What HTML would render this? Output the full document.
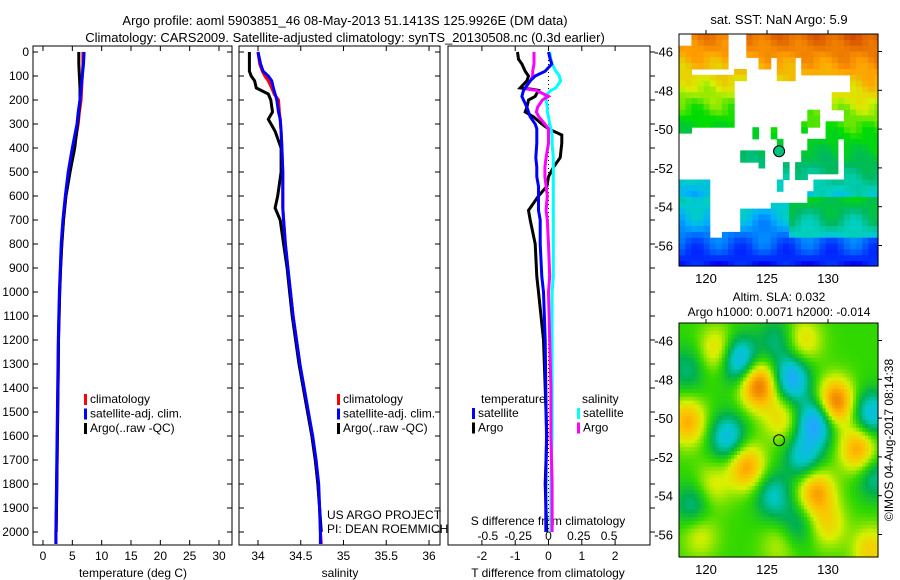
<!DOCTYPE html>
<html><head><meta charset="utf-8"><style>
body{margin:0;background:#fff}
svg{display:block;font-family:"Liberation Sans",sans-serif;font-size:12px}
</style></head><body>
<svg id="s" width="900" height="580" viewBox="0 0 900 580">
<text x="345" y="25" text-anchor="middle" font-size="13">Argo profile: aoml 5903851_46 08-May-2013 51.1413S 125.9926E (DM data)</text>
<text x="345" y="42" text-anchor="middle" font-size="13">Climatology: CARS2009. Satellite-adjusted climatology: synTS_20130508.nc (0.3d earlier)</text>
<g id="g1"></g>
<g id="g2"></g>
<g id="g3"></g>
<g id="m1"></g>
<g id="m2"></g>
<text transform="translate(893,440) rotate(-90)" text-anchor="middle">©IMOS 04-Aug-2017 08:14:38</text>
</svg>
<script>
const tDepths=[0,50,100,150,200,250,300,400,500,600,700,800,900,1000,1100,1200,1300,1400,1500,1600,1700,1800,1900,2000,2050];
const tClim=[6.8,6.8,6.7,6.6,6.5,6.2,6.0,5.3,4.6,3.9,3.5,3.2,3.0,2.85,2.75,2.65,2.6,2.55,2.5,2.45,2.4,2.35,2.3,2.2,2.2];
const tSat=[7.0,6.9,6.7,6.5,6.3,6.0,5.8,5.0,4.3,3.8,3.4,3.1,2.95,2.8,2.7,2.6,2.55,2.5,2.45,2.4,2.35,2.3,2.25,2.2,2.2];
const tArgo=[6.1,6.1,6.2,6.3,6.3,6.1,5.9,5.4,4.6,3.9,3.5,3.2,3.0,2.85,2.75,2.65,2.6,2.55,2.5,2.45,2.4,2.35,2.3,2.25];
const sDepths=[0,50,80,100,120,150,175,200,250,280,330,400,500,600,650,700,800,900,1000,1100,1200,1300,1400,1500,1600,1700,1800,1900,2000,2050];
const sClim=[34.0,34.02,34.05,34.08,34.12,34.16,34.19,34.24,34.25,34.26,34.27,34.28,34.29,34.29,34.29,34.3,34.32,34.35,34.38,34.41,34.45,34.49,34.53,34.58,34.63,34.67,34.70,34.72,34.73,34.74];
const sSat=[34.0,34.03,34.06,34.12,34.16,34.18,34.2,34.22,34.24,34.26,34.27,34.28,34.29,34.29,34.29,34.3,34.32,34.35,34.38,34.41,34.45,34.49,34.54,34.59,34.64,34.68,34.71,34.72,34.73,34.73];
const sArgo=[33.9,33.9,33.9,33.92,33.96,33.98,34.12,34.15,34.17,34.12,34.2,34.27,34.27,34.23,34.2,34.26,34.3,34.34,34.37,34.4,34.44,34.48,34.53,34.58,34.63,34.67,34.70,34.72,34.74];
const dDepths=[0,30,50,80,100,120,150,155,160,185,200,230,250,270,300,320,346,380,440,480,520,560,600,660,700,800,935,1000,1200,1400,1600,1800,2000];
const dTArgo=[-0.93,-0.9,-0.8,-0.7,-0.6,-0.65,-0.85,-0.5,-0.3,-0.4,-0.6,-0.65,-0.7,-0.45,-0.2,0.0,0.4,0.4,0.35,0.15,0.0,-0.05,-0.3,-0.6,-0.55,-0.4,-0.35,-0.3,-0.15,-0.1,-0.05,-0.1,-0.05];
const dTSat=[0,0.05,0.1,-0.1,-0.4,-0.55,-0.7,-0.72,-0.75,-0.8,-0.75,-0.65,-0.6,-0.55,-0.4,-0.35,-0.35,-0.35,-0.38,-0.35,-0.35,-0.3,-0.3,-0.3,-0.25,-0.25,-0.2,-0.15,-0.1,-0.08,-0.06,-0.08,-0.08];
const dSSat=[0.01,0.02,0.03,0.06,0.09,0.1,0.06,0.04,0.02,-0.03,-0.02,-0.01,-0.01,0.0,0.01,0.02,0.03,0.03,0.04,0.04,0.04,0.04,0.04,0.04,0.04,0.04,0.04,0.03,0.03,0.03,0.03,0.02,0.02];
const dSArgo=[-0.12,-0.12,-0.12,-0.13,-0.13,-0.15,-0.19,-0.17,-0.1,0.0,-0.05,-0.09,-0.1,-0.08,-0.03,0.0,0.0,0.0,-0.02,-0.03,-0.03,-0.02,-0.01,-0.02,-0.01,0.0,0.01,0.0,0.01,0.02,0.02,0.03,0.03];
const depthTicks=[0,100,200,300,400,500,600,700,800,900,1000,1100,1200,1300,1400,1500,1600,1700,1800,1900,2000];
const tTicks=[0,5,10,15,20,25,30];
const sTicks=[34,34.5,35,35.5,36];
const dTTicks=[-2,-1,0,1,2];
const dSTicks=[-0.5,-0.25,0,0.25,0.5];
const slaBlobs=[[124.3,-48.3,1.2],[130.6,-49.2,1.2],[132.5,-51.6,0.9],[123.3,-52.5,0.9],[129,-53.8,0.9],[118.5,-50.2,0.8],[121,-46.5,0.6],[126.2,-50,0.5],[133.5,-56.8,0.6],[119.5,-56,0.4],[128,-46,0.5],[120.5,-53.5,0.4],[130,-55.5,0.5],[126,-56.5,0.3],
 [122.7,-47,-1],[127,-48,-1],[129,-50.2,-1.1],[121.8,-51,-0.8],[133.5,-49.8,-0.8],[128,-52,-0.7],[125.5,-54,-0.6],[119,-54.5,-0.5],[125.8,-46,-0.4],[133.8,-53,-0.5],[118.5,-47.5,-0.4],[127.5,-55.5,-0.4]];

const NS='http://www.w3.org/2000/svg';
function el(p,tag,a,txt){const e=document.createElementNS(NS,tag);for(const k in a)e.setAttribute(k,a[k]);if(txt!==undefined)e.textContent=txt;p.appendChild(e);return e;}
const Y0=52,PPM=0.24,YB=545;
const yD=d=>Y0+d*PPM;
function lin(d0,d1,r0,r1){return v=>r0+(v-d0)*(r1-r0)/(d1-d0);}
function line(g,xs,ds,fx,col,name,w,dash){
  const pts=xs.map((v,i)=>fx(v).toFixed(1)+','+yD(ds[i]).toFixed(1)).join(' ');
  const e=el(g,'polyline',{points:pts,fill:'none',stroke:col,'stroke-width':w||3,'stroke-linejoin':'miter'});
  if(dash)e.setAttribute('stroke-dasharray',dash);
  
  
}
function frame(g,x0,x1,name){
  const r=el(g,'rect',{x:x0,y:Y0-6,width:x1-x0,height:YB-Y0+6,fill:'none',stroke:'#000','stroke-width':1});
  
  
}
function legend(g,x,y,items){
  items.forEach((it,i)=>{
    const r=el(g,'rect',{x:x,y:y+i*14.5-9,width:3,height:11,fill:it[1]});
    
    
    const t=el(g,'text',{x:x+6,y:y+i*14.5},it[0]);
    
    
  });
}
const g1=document.getElementById('g1');
const fxT=lin(0,30,43,219);
frame(g1,33,232,'temperature-axes');
depthTicks.forEach(d=>{
  el(g1,'line',{x1:33,x2:38,y1:yD(d),y2:yD(d),stroke:'#000'});
  el(g1,'line',{x1:227,x2:232,y1:yD(d),y2:yD(d),stroke:'#000'});
  const t=el(g1,'text',{x:29,y:yD(d)+4,'text-anchor':'end'},String(d));
  
  
});
tTicks.forEach(v=>{
  el(g1,'line',{x1:fxT(v),x2:fxT(v),y1:46,y2:51,stroke:'#000'});
  el(g1,'line',{x1:fxT(v),x2:fxT(v),y1:YB-5,y2:YB,stroke:'#000'});
  const t=el(g1,'text',{x:fxT(v),y:560,'text-anchor':'middle'},String(v));
  
  
});
el(g1,'text',{x:133,y:577,'text-anchor':'middle',},'temperature (deg C)');
line(g1,tClim,tDepths,fxT,'#f00','temperature-climatology');
line(g1,tArgo,tDepths,fxT,'#000','temperature-argo');
line(g1,tSat,tDepths,fxT,'#00f','temperature-satellite');
legend(g1,84,403,[['climatology','#f00'],['satellite-adj. clim.','#00f'],['Argo(..raw -QC)','#000']]);
const g2=document.getElementById('g2');
const fxS=lin(34,36,258,429);
frame(g2,239,440,'salinity-axes');
depthTicks.forEach(d=>{
  el(g2,'line',{x1:239,x2:244,y1:yD(d),y2:yD(d),stroke:'#000'});
  el(g2,'line',{x1:435,x2:440,y1:yD(d),y2:yD(d),stroke:'#000'});
});
sTicks.forEach(v=>{
  el(g2,'line',{x1:fxS(v),x2:fxS(v),y1:46,y2:51,stroke:'#000'});
  el(g2,'line',{x1:fxS(v),x2:fxS(v),y1:YB-5,y2:YB,stroke:'#000'});
  const t=el(g2,'text',{x:fxS(v),y:560,'text-anchor':'middle'},String(v));
  
  
});
el(g2,'text',{x:340,y:577,'text-anchor':'middle',},'salinity');
line(g2,sClim,sDepths,fxS,'#f00','salinity-climatology');
line(g2,sArgo,sDepths,fxS,'#000','salinity-argo');
line(g2,sSat,sDepths,fxS,'#00f','salinity-satellite');
legend(g2,337,403,[['climatology','#f00'],['satellite-adj. clim.','#00f'],['Argo(..raw -QC)','#000']]);
el(g2,'text',{x:327,y:519,},'US ARGO PROJECT');
el(g2,'text',{x:327,y:533,},'PI: DEAN ROEMMICH');
const g3=document.getElementById('g3');
const fxDT=lin(0,1,548.5,581.8);
const fxDS=lin(0,0.25,548.5,578.8);
frame(g3,448,650,'difference-axes');
depthTicks.forEach(d=>{
  el(g3,'line',{x1:650,x2:655,y1:yD(d),y2:yD(d),stroke:'#000'});
});
el(g3,'line',{x1:548.5,x2:548.5,y1:Y0,y2:yD(2000),stroke:'#000','stroke-dasharray':'1,3',});
dTTicks.forEach(v=>{
  el(g3,'line',{x1:fxDT(v),x2:fxDT(v),y1:46,y2:51,stroke:'#000'});
  el(g3,'line',{x1:fxDT(v),x2:fxDT(v),y1:YB-5,y2:YB,stroke:'#000'});
  const t=el(g3,'text',{x:fxDT(v),y:560,'text-anchor':'middle'},String(v));
  
  
});
dSTicks.forEach(v=>{
  const t=el(g3,'text',{x:fxDS(v),y:540,'text-anchor':'middle'},String(v));
  
  
});
el(g3,'text',{x:548,y:525,'text-anchor':'middle',},'S difference from climatology');
el(g3,'text',{x:548,y:577,'text-anchor':'middle',},'T difference from climatology');
line(g3,dTArgo,dDepths,fxDT,'#000','t-diff-argo');
line(g3,dSSat,dDepths,fxDS,'#0ff','s-diff-satellite');
line(g3,dSArgo,dDepths,fxDS,'#f0f','s-diff-argo');
line(g3,dTSat,dDepths,fxDT,'#00f','t-diff-satellite');
el(g3,'text',{x:481,y:403,},'temperature');
el(g3,'text',{x:582,y:403,},'salinity');
legend(g3,472,417,[['satellite','#00f'],['Argo','#000']]);
legend(g3,577,417,[['satellite','#0ff'],['Argo','#f0f']]);

function hex(h){return [parseInt(h.substr(1,2),16),parseInt(h.substr(3,2),16),parseInt(h.substr(5,2),16)];}
function pal(stops,v){
  if(v<=stops[0][0])return 'rgb('+hex(stops[0][1])+')';
  for(let i=1;i<stops.length;i++){if(v<=stops[i][0]){const a=hex(stops[i-1][1]),b=hex(stops[i][1]),f=(v-stops[i-1][0])/(stops[i][0]-stops[i-1][0]);return 'rgb('+a.map((c,k)=>Math.round(c+(b[k]-c)*f)).join(',')+')';}}
  return 'rgb('+hex(stops[stops.length-1][1])+')';
}
const sstPal=[[0,'#000080'],[0.15,'#0000ff'],[0.28,'#0070ff'],[0.35,'#00b0ff'],[0.42,'#00d0c0'],[0.5,'#00b860'],[0.6,'#00dd00'],[0.7,'#d8f000'],[0.8,'#ffa000'],[0.9,'#e06000'],[1,'#b02000']];
const slaPal=[[-1,'#20a8ff'],[-0.6,'#00c8c8'],[-0.3,'#00b050'],[0,'#30d800'],[0.35,'#d8f000'],[0.7,'#ffc000'],[1.1,'#f08000']];
const LX=lin(120,130,706,828);
function drawMap(g,top,bot,cellFn,dlon,dlat,name){
  const LY=lin(-46,-56,top+17.5,top+17.5+194);
  const x0=679,x1=878;
  for(let lon=117.8;lon<134.2;lon+=dlon){for(let lat=-45.1;lat>-57.2;lat-=dlat){
    const c=cellFn(lon+dlon/2,lat-dlat/2);if(!c)continue;
    const xa=Math.max(x0,LX(lon)),xb=Math.min(x1,LX(lon+dlon)),ya=Math.max(top,LY(lat)),yb=Math.min(bot,LY(lat-dlat));
    if(xb>xa&&yb>ya)el(g,'rect',{x:xa.toFixed(1),y:ya.toFixed(1),width:(xb-xa+0.6).toFixed(1),height:(yb-ya+0.6).toFixed(1),fill:c});
  }}
  const fr=el(g,'rect',{x:x0,y:top,width:x1-x0,height:bot-top,fill:'none',stroke:'#000'});
  
  
  [120,125,130].forEach(v=>{el(g,'line',{x1:LX(v),x2:LX(v),y1:top,y2:top-4,stroke:'#000'});
    const t=el(g,'text',{x:LX(v),y:bot+17,'text-anchor':'middle','font-size':13},String(v));
    });
  [-46,-48,-50,-52,-54,-56].forEach(v=>{el(g,'line',{x1:x1,x2:x1+4,y1:LY(v),y2:LY(v),stroke:'#000'});
    const t=el(g,'text',{x:673,y:LY(v)+5,'text-anchor':'end','font-size':13},String(v));
    });
  return LY;
}
const sstRects=[[118.6,121.8,-45.1,-46.8],[118,119,-45.8,-50.1],[119,122.2,-47.3,-50],[122.5,123.3,-46.9,-47.6],
[123.5,134.3,-45.1,-46.2],[124.5,125.5,-46.2,-47],[126,127.3,-46.2,-47.6],[128,134.3,-46.2,-47.3],[131.6,134.3,-47.3,-48.5],
[130.2,131.8,-48,-49],[128.5,129.5,-49,-50],[127.8,128.3,-49.7,-50.2],[131.5,134.3,-48.5,-53.2],[130,131.5,-49.5,-50.5],[128.5,131,-50.5,-52.3],
[129,134.3,-52.5,-54],[123.8,124.3,-49.8,-50.4],[125.3,125.8,-50,-50.6],[126,126.5,-50.4,-51],[123,124.2,-51,-51.6],[124.2,125,-51.1,-52.1],
[126.3,126.8,-51.7,-52.7],[125.8,126.5,-52.7,-53.3],[127.5,128.5,-51.7,-52.5],[127.9,128.4,-51,-51.6],[128.3,128.8,-53.2,-53.8],
[118,120.2,-52.5,-57.2],[120,121.3,-55.5,-57.2],[121.3,134.3,-55.2,-57.2],[123,134.3,-54.2,-55.2],[125.5,134.3,-53.8,-54.2]];
function sstCell(lon,lat){
  if(!sstRects.some(r=>lon>=r[0]&&lon<=r[1]&&lat<=r[2]&&lat>=r[3]))return null;
  let v=0.88+(lat+45.2)*0.06+(lon-126)*0.004+0.03*Math.sin(lon*2.1+lat*1.3)*Math.cos(lat*2.7);
  if(lat<-53.5)v=0.44+(lat+53.5)*0.075+0.05*Math.sin(lon*1.7)*Math.cos(lat*2.3)+(lon>127&&lat>-55.5?0.12:0);
  return pal(sstPal,v);
}
const m1=document.getElementById('m1');
el(m1,'text',{x:779,y:24,'text-anchor':'middle','font-size':13,},'sat. SST: NaN Argo: 5.9');
const LY1=drawMap(m1,34,266,sstCell,0.5,0.3,'sst-map');
el(m1,'circle',{cx:LX(125.99),cy:LY1(-51.14),r:5.5,fill:'#00c080',stroke:'#000',});
function slaCell(lon,lat){
  let v=0;slaBlobs.forEach(b=>{const dx=(lon-b[0])/1.5,dy=(lat-b[1])/1.2;v+=b[2]*Math.exp(-(dx*dx+dy*dy));});
  return pal(slaPal,v);
}
const m2=document.getElementById('m2');
el(m2,'text',{x:779,y:301,'text-anchor':'middle','font-size':12,},'Altim. SLA: 0.032');
el(m2,'text',{x:779,y:316,'text-anchor':'middle','font-size':12,},'Argo h1000: 0.0071 h2000: -0.014');
const LY2=drawMap(m2,323,557,slaCell,0.25,0.2,'sla-map');
el(m2,'circle',{cx:LX(125.99),cy:LY2(-51.14),r:5.5,fill:'none',stroke:'#000',});
</script>
</body></html>
